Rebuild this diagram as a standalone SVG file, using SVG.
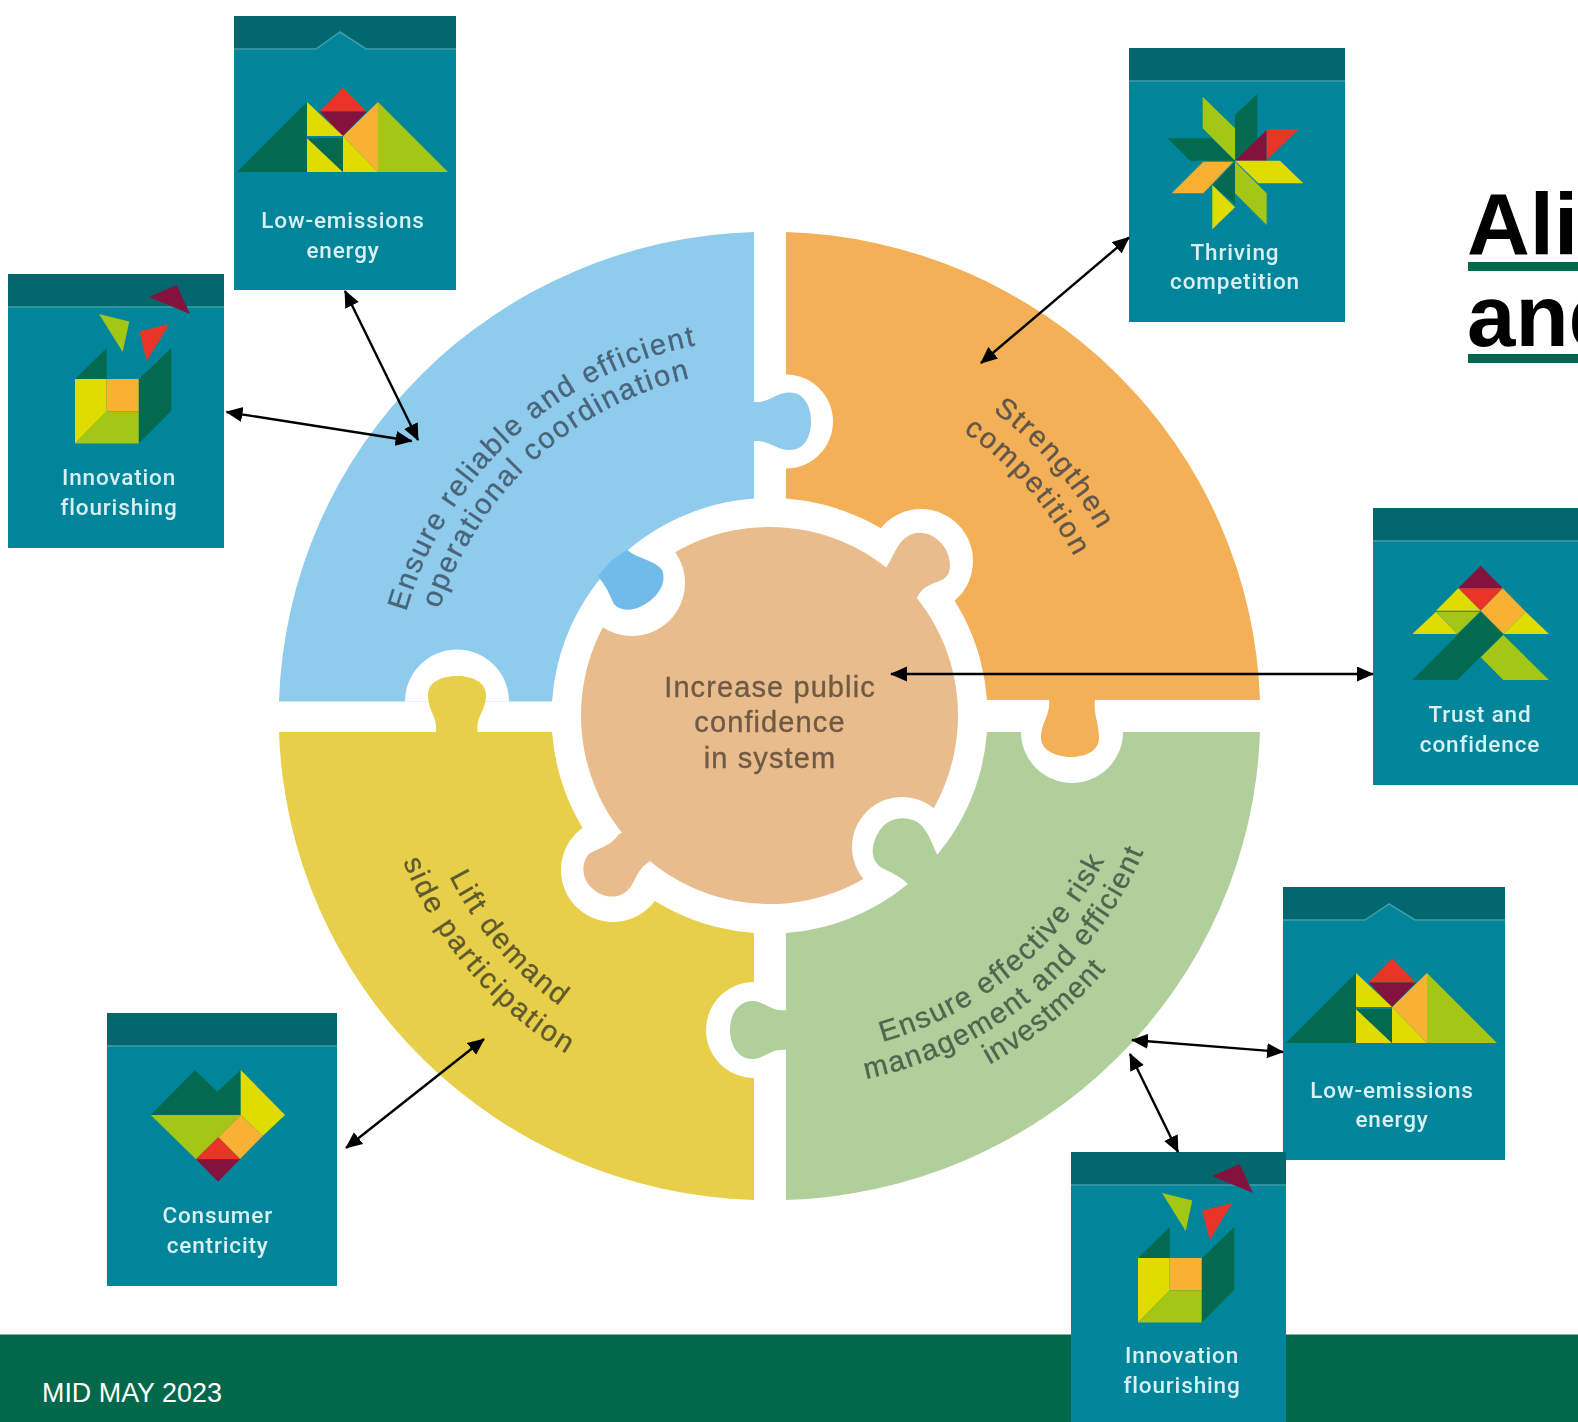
<svg xmlns="http://www.w3.org/2000/svg" xmlns:xlink="http://www.w3.org/1999/xlink" width="1578" height="1422" viewBox="0 0 1578 1422">
<style>
.card{fill:#00859b}.band{fill:#03676f}.edge{fill:none;stroke:#3f9ea8;stroke-width:1.5}
.cl{font-family:Roboto,"Liberation Sans",sans-serif;font-size:22.5px;font-weight:500;letter-spacing:.85px;fill:#d9f0f2;text-anchor:middle;filter:url(#soft)}
.dg{fill:#036a50}.lm{fill:#a4c615}.yl{fill:#e0dc00}.or{fill:#f8b133}.rd{fill:#e83527}.mr{fill:#83133d}
.w{fill:#fff}
.wh{font-family:"Liberation Sans",Arial,sans-serif;font-size:29px;text-anchor:middle;stroke-width:.35px}
.arr{stroke:#000;stroke-width:2.4;fill:none;marker-start:url(#ah);marker-end:url(#ah)}
.ttl{font-family:"Liberation Sans",Arial,sans-serif;font-weight:700;font-size:87px;fill:#000}
</style>
<defs>
<filter id="soft" x="-5%" y="-5%" width="110%" height="110%"><feGaussianBlur stdDeviation="0.55"/></filter>
<marker id="ah" markerUnits="userSpaceOnUse" markerWidth="18" markerHeight="16" refX="16" refY="7.5" orient="auto-start-reverse"><path d="M0,0L17,7.5L0,15z" fill="#000"/></marker>
<path id="t1a" d="M391.8,732.5A378,378 0 0 1 818.7,341.2"/>
<path id="t1b" d="M422.7,731.1A347,347 0 0 1 814.7,372"/>
<path id="t2a" d="M759.5,338.1A378,378 0 0 1 1143.2,771.9"/>
<path id="t2b" d="M760.4,372.1A344,344 0 0 1 1109.6,766.8"/>
<path id="t3a" d="M416.3,656.9A358,358 0 0 0 772.5,1074"/>
<path id="t3b" d="M380.8,651A394,394 0 0 0 772.8,1110"/>
<path id="t4a" d="M721.5,1048.9A356,356 0 0 0 1143,702.7"/>
<path id="t4b" d="M715.6,1080.4A388,388 0 0 0 1175,703.1"/>
<path id="t4c" d="M710.1,1109.9A418,418 0 0 0 1205,703.4"/>
<g id="ic-low">
<polygon class="dg" points="3,156 73,156 73,86"/>
<polygon class="lm" points="144,86 144,156 214,156"/>
<polygon class="or" points="144,86 144,156 109,120"/>
<polygon class="rd" points="85.5,95.5 109,71.5 133,95.5"/>
<polygon class="mr" points="85.5,95.5 133,95.5 109,120"/>
<polygon class="yl" points="73,86 109,120 73,120"/>
<polygon class="yl" points="73,122 109,156 73,156"/>
<polygon class="dg" points="73,122 109,122 109,156"/>
<polygon class="yl" points="109,120 144,156 109,156"/>
</g>
<g id="ic-inn">
<polygon class="mr" points="141,23 168.7,11 182,40"/>
<polygon class="lm" points="91,40 121.3,47.4 114.7,78"/>
<polygon class="rd" points="131.3,57.4 161.3,50 138.7,87"/>
<polygon class="dg" points="67,105 98.7,74 98.7,105"/>
<polygon class="dg" points="130.7,105.3 163.3,74 163.3,136.7 130.7,169.6"/>
<polygon class="yl" points="67,105 98.7,105 98.7,137.4 67,169.6"/>
<polygon class="or" points="98.7,105 130.7,105 130.7,137.4 98.7,137.4"/>
<polygon class="lm" points="98.7,137.4 130.7,137.4 130.7,169.6 67,169.6"/>
</g>
</defs>
<rect width="1578" height="1422" fill="#fff"/>
<rect id="footer" x="0" y="1334.5" width="1578" height="87.5" fill="#02684b"/>
<text id="footer-date" x="42" y="1402" font-family="'Liberation Sans',Arial,sans-serif" font-size="26.9" fill="#fff">MID MAY 2023</text>

<g id="title" class="ttl">
<text x="1467" y="253.500">Ali</text>
<rect x="1468" y="262" width="110" height="9" fill="#02684b"/>
<text x="1467" y="345.700">and</text>
<rect x="1468" y="354" width="110" height="9" fill="#02684b"/>
</g>

<g id="wheel" filter="url(#soft)">
<g id="piece-orange">
<path fill="#f3b057" d="M786,232A490,484.5 0 0 1 1260,700L987,700A218,218 0 0 0 786,498.5Z"/>
<path class="w" d="M786,374.5A47,47 0 0 1 786,468.5Z"/>
</g>
<g id="piece-yellow">
<path fill="#e8cf4a" d="M279,732A490,484.5 0 0 0 754,1200L754,933A218,218 0 0 1 552,732Z"/>
<path class="w" d="M754,982A48,48 0 0 0 754,1078Z"/>
</g>
<circle class="w" cx="921" cy="561" r="52"/>
<circle class="w" cx="613" cy="870" r="52"/>
<g id="piece-center">
<circle cx="769.5" cy="715.5" r="188.5" fill="#e8bc8c"/>
<path fill="#e8bc8c" d="M886,568C895,555 897,540 912,534C930,528 950,545 950,565C950,580 940,580 930,585C923,588 919,593 917,598L890,595L875,575Z"/>
<path fill="#e8bc8c" d="M619,834C612,845 600,848 590,853C580,862 582,880 592,888C602,898 618,900 628,890C636,882 636,870 649,862L665,840L640,825Z"/>
<text class="wh" fill="#6e5a45" stroke="#6e5a45" letter-spacing="1.1"><tspan x="770" y="697">Increase public</tspan><tspan x="770" y="732">confidence</tspan><tspan x="770" y="768">in system</tspan></text>
</g>
<circle class="w" cx="632" cy="583" r="53"/>
<circle class="w" cx="902" cy="847" r="50"/>
<g id="piece-blue">
<path fill="#8ecbec" d="M754,232A490,484.5 0 0 0 279,701.5L552,701.5A218,218 0 0 1 754,498.5Z"/>
<path class="w" d="M405,701.5A52,52 0 0 1 509,701.5Z"/>
<path fill="#6fbbe9" d="M627,550C640,560 655,560 662,570C668,585 655,600 640,607C628,612 615,610 612,600C608,590 604,584 598,576L612,560Z"/>
<path fill="#8ecbec" d="M754,402C770,403 775,392.500 790,392.500C805,392.500 811,408 811,421C811,436 805,450 790,450C776,450 770,440 754,441Z"/>
<text class="wh" fill="#4a6478" stroke="#4a6478" letter-spacing="2"><textPath href="#t1a" startOffset="50%">Ensure reliable and efficient</textPath></text>
<text class="wh" fill="#4a6478" stroke="#4a6478" letter-spacing="2"><textPath href="#t1b" startOffset="50%">operational coordination</textPath></text>
</g>
<g id="piece-green">
<path fill="#b0cf9b" d="M1260,732A490,484.5 0 0 1 786,1200L786,933A218,218 0 0 0 987,732Z"/>
<path class="w" d="M1021,732A51,51 0 0 0 1123,732Z"/>
<path fill="#b0cf9b" d="M938,856C932,845 930,835 922,826C912,815 890,815 880,830C870,845 870,860 882,868C892,873 900,876 908,884L925,875Z"/>
<path fill="#b0cf9b" d="M787,1010C770,1012 765,1001 752,1001C738,1001 730,1015 730,1030C730,1045 738,1059 752,1059C765,1059 770,1048 787,1050Z"/>
<text class="wh" fill="#4d6650" stroke="#4d6650" letter-spacing="1.7" font-size="27.5"><textPath href="#t4a" startOffset="50%">Ensure effective risk</textPath></text>
<text class="wh" fill="#4d6650" stroke="#4d6650" letter-spacing="1.7" font-size="27.5"><textPath href="#t4b" startOffset="50%">management and efficient</textPath></text>
<text class="wh" fill="#4d6650" stroke="#4d6650" letter-spacing="1.2" font-size="27.5"><textPath href="#t4c" startOffset="50%">investment</textPath></text>
</g>
<path id="knob-orange" fill="#f3b057" d="M1049,699C1051,715 1041,722 1041,738C1041,751 1058,757 1071,757C1085,757 1099,751 1099,738C1099,722 1093,715 1095,699Z"/>
<path id="knob-yellow" fill="#e8cf4a" d="M436,733C438,716 428,712 428,695C428,682 442,676 457,676C472,676 486,682 486,695C486,712 475,716 478,733Z"/>
<text class="wh" fill="#60574a" stroke="#60574a" letter-spacing="2"><textPath href="#t2a" startOffset="50%">Strengthen</textPath></text>
<text class="wh" fill="#60574a" stroke="#60574a" letter-spacing="2"><textPath href="#t2b" startOffset="50%">competition</textPath></text>
<text class="wh" fill="#5f5a2e" stroke="#5f5a2e" letter-spacing="2"><textPath href="#t3a" startOffset="50%">Lift demand</textPath></text>
<text class="wh" fill="#5f5a2e" stroke="#5f5a2e" letter-spacing="2.3"><textPath href="#t3b" startOffset="50%">side participation</textPath></text>
</g>

<g id="card-low-top" transform="translate(234,16)">
<rect class="card" width="222" height="274"/>
<path class="band" d="M0,0H222V33H132L106,16L82,33H0Z"/>
<path class="edge" d="M0,33H82L106,16L132,33H222"/>
<use href="#ic-low"/>
<text class="cl"><tspan x="109" y="212">Low-emissions</tspan><tspan x="109" y="242">energy</tspan></text>
</g>
<g id="card-innovation-left" transform="translate(8,274)">
<rect class="card" width="216" height="274"/>
<rect class="band" width="216" height="33"/>
<path class="edge" d="M0,33H216"/>
<use href="#ic-inn"/>
<text class="cl"><tspan x="111" y="211">Innovation</tspan><tspan x="111" y="241">flourishing</tspan></text>
</g>
<g id="card-thriving" transform="translate(1129,48)">
<rect class="card" width="216" height="274"/>
<rect class="band" width="216" height="33"/>
<path class="edge" d="M0,33H216"/>
<polygon class="lm" points="73.7,48.7 106,80.3 106,112.700 73.7,80.3"/>
<polygon class="dg" points="106,67 128.3,46 128.3,91 106,112.7"/>
<polygon class="mr" points="106,112.7 137.7,82 137.7,112.7"/>
<polygon class="rd" points="137.7,81 170,81 137.7,112"/>
<polygon class="yl" points="106,112.7 151,112.7 174.3,135.3 129.3,135.3"/>
<polygon class="dg" points="106,113.7 106,156 83.3,137"/>
<polygon class="lm" points="106,113.7 137.7,145.3 137.7,177 106,145.3"/>
<polygon class="yl" points="83.3,137 106,159.3 83.3,181.3"/>
<polygon class="or" points="42.7,145.3 74.3,113.7 104.3,113.7 74.3,145.3"/>
<polygon class="dg" points="38.7,90.3 82.7,90.3 106,112.7 61,112.7"/>
<text class="cl"><tspan x="106" y="212">Thriving</tspan><tspan x="106" y="241">competition</tspan></text>
</g>
<g id="card-trust" transform="translate(1373,508)">
<rect class="card" width="205" height="277"/>
<rect class="band" width="205" height="33"/>
<path class="edge" d="M0,33H205"/>
<polygon class="mr" points="85.3,80.3 107.7,57.700 129.7,80.3"/>
<polygon class="rd" points="85.3,80.3 129.7,80.3 107.7,102.7"/>
<polygon class="yl" points="63,102.7 85.3,80.3 107.7,102.7"/>
<polygon class="or" points="107.7,102.7 129.7,80.3 152.7,103.7 130.3,126"/>
<polygon class="yl" points="130.3,126 152.7,103.7 176,126"/>
<polygon class="yl" points="39.3,126 63,103.7 84.3,126"/>
<polygon class="lm" points="63,103.7 107,103.7 84.3,126"/>
<polygon class="dg" points="39.3,172 107.7,103.7 130.3,126 84.3,172"/>
<polygon class="lm" points="107.7,149.3 130.3,127 176,172 130.3,172"/>
<text class="cl"><tspan x="107" y="213.700">Trust and</tspan><tspan x="107" y="243.7">confidence</tspan></text>
</g>
<g id="card-low-bottom" transform="translate(1283,887)">
<rect class="card" width="222" height="273"/>
<path class="band" d="M0,0H222V33H132L106,17L82,33H0Z"/>
<path class="edge" d="M0,33H82L106,17L132,33H222"/>
<use href="#ic-low"/>
<text class="cl"><tspan x="109" y="211">Low-emissions</tspan><tspan x="109" y="240">energy</tspan></text>
</g>
<g id="card-innovation-bottom" transform="translate(1071,1152)">
<rect class="card" width="215" height="270"/>
<rect class="band" width="215" height="33"/>
<path class="edge" d="M0,33H215"/>
<use href="#ic-inn" y="1"/>
<text class="cl"><tspan x="111" y="211">Innovation</tspan><tspan x="111" y="241">flourishing</tspan></text>
</g>
<g id="card-consumer" transform="translate(107,1013)">
<rect class="card" width="230" height="273"/>
<rect class="band" width="230" height="33"/>
<path class="edge" d="M0,33H230"/>
<polygon class="dg" points="43.7,102 88,57 110.3,78.7 133.7,57 133.7,102"/>
<polygon class="yl" points="133.7,57 178,102 155.7,123 133.7,102"/>
<polygon class="lm" points="43.7,102 133.7,102 89,146.3"/>
<polygon class="or" points="133.7,102 155.7,123 133,146 111.3,124.3"/>
<polygon class="rd" points="111.3,124.3 133,146 89,146"/>
<polygon class="mr" points="89,146.3 133,146.3 111,168.7"/>
<text class="cl"><tspan x="110.7" y="210.3">Consumer</tspan><tspan x="110.7" y="240.3">centricity</tspan></text>
</g>

<g id="connectors">
<line class="arr" x1="345" y1="291" x2="418" y2="440"/>
<line class="arr" x1="226.500" y1="412" x2="411.6" y2="441"/>
<line class="arr" x1="1129" y1="237.500" x2="981" y2="363"/>
<line class="arr" x1="891" y1="674" x2="1373" y2="674"/>
<line class="arr" x1="1132" y1="1040" x2="1283" y2="1052"/>
<line class="arr" x1="1130" y1="1054" x2="1178" y2="1152"/>
<line class="arr" x1="484" y1="1039" x2="346" y2="1148"/>
</g>
</svg>
